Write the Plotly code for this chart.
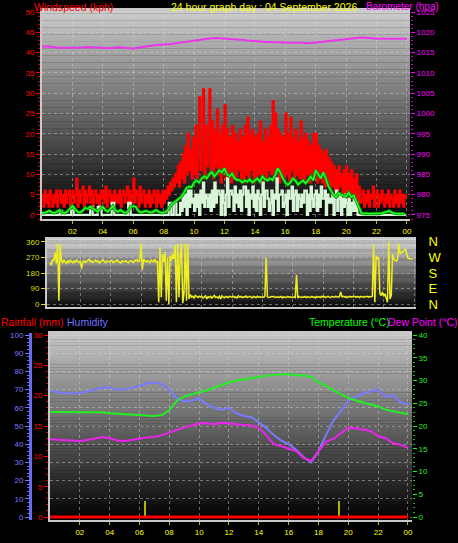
import plotly.graph_objects as go

W, H = 458, 543

# ------------------------------------------------------------------ data
hour_ticks = [2, 4, 6, 8, 10, 12, 14, 16, 18, 20, 22, 24]
hour_labels = ["02", "04", "06", "08", "10", "12", "14", "16", "18", "20", "22", "00"]

wind_ticks = [0, 5, 10, 15, 20, 25, 30, 35, 40, 45, 50]
baro_ticks = [975, 980, 985, 990, 995, 1000, 1005, 1010, 1015, 1020, 1025]
dir_ticks = [0, 90, 180, 270, 360]
compass_labels = ["N", "E", "S", "W", "N"]
hum_ticks = [0, 10, 20, 30, 40, 50, 60, 70, 80, 90, 100]
rain_ticks = [0, 5, 10, 15, 20, 25, 30]
temp_ticks = [0, 5, 10, 15, 20, 25, 30, 35, 40]

# wind gust, kph, 5-minute samples
gust_kph = [
    5, 2, 6, 3, 5, 2, 6, 4, 2, 5, 3, 6,
    2, 5, 6, 3, 5, 2, 6, 3, 5, 6, 2, 5,
    6, 3, 5, 9, 2, 6, 3, 5, 7, 2, 6, 3,
    5, 7, 3, 6, 2, 5, 6, 3, 5, 2, 6, 4,
    6, 3, 7, 2, 5, 6, 3, 5, 2, 6, 3, 5,
    3, 6, 2, 5, 6, 3, 5, 7, 2, 6, 3, 5,
    9, 3, 6, 5, 2, 7, 3, 5, 6, 2, 5, 3,
    6, 2, 5, 3, 6, 5, 2, 6, 3, 5, 2, 6,
    3, 6, 4, 7, 5, 8, 6, 9, 7, 10, 8, 12,
    7, 13, 9, 15, 8, 17, 10, 20, 11, 16, 9, 19,
    10, 22, 9, 18, 29, 11, 20, 31, 9, 22, 12, 19,
    31, 10, 23, 9, 21, 12, 26, 10, 20, 8, 22, 11,
    27, 9, 21, 10, 19, 8, 22, 10, 20, 9, 18, 11,
    21, 9, 19, 8, 22, 10, 24, 9, 20, 11, 21, 8,
    19, 9, 20, 10, 23, 8, 18, 10, 21, 9, 19, 11,
    22, 10, 28, 9, 25, 11, 21, 8, 20, 10, 19, 9,
    25, 10, 20, 8, 24, 11, 19, 9, 21, 10, 18, 9,
    23, 9, 19, 8, 20, 10, 18, 8, 17, 9, 20, 10,
    20, 8, 17, 9, 16, 8, 15, 7, 16, 8, 14, 7,
    13, 7, 12, 6, 11, 6, 12, 7, 10, 5, 11, 5,
    12, 5, 10, 4, 11, 5, 9, 4, 10, 3, 7, 3,
    4, 6, 2, 5, 3, 6, 2, 5, 4, 7, 2, 5,
    6, 2, 5, 3, 6, 4, 2, 5, 3, 6, 2, 5,
    4, 2, 6, 3, 5, 2, 6, 3, 5, 2, 5, 4,
]

# wind speed, kph, 5-minute samples
speed_kph = [
    0, 0, 0, 0, 0, 0, 0, 0, 0, 0, 0, 0,
    0, 0, 1, 1, 0, 0, 0, 0, 0, 0, 0, 2,
    2, 0, 0, 0, 0, 0, 0, 0, 0, 0, 0, 0,
    0, 0, 2, 2, 0, 0, 0, 0, 2, 2, 2, 0,
    0, 0, 0, 0, 0, 0, 0, 3, 3, 0, 0, 0,
    0, 0, 0, 0, 0, 0, 0, 0, 3, 3, 0, 0,
    0, 0, 0, 0, 0, 0, 0, 0, 0, 0, 0, 0,
    0, 0, 0, 0, 0, 0, 0, 0, 0, 0, 0, 0,
    0, 0, 0, 0, 3, 3, 0, 0, 3, 3, 0, 0,
    0, 3, 1, 5, 2, 5, 0, 6, 2, 6, 3, 4,
    1, 5, 2, 5, 0, 6, 3, 8, 2, 5, 4, 2,
    5, 1, 6, 2, 8, 3, 6, 6, 5, 0, 6, 3,
    0, 5, 9, 2, 6, 6, 5, 1, 7, 3, 5, 2,
    6, 1, 5, 7, 7, 2, 6, 0, 5, 4, 7, 2,
    5, 1, 6, 4, 0, 5, 8, 2, 6, 6, 4, 1,
    3, 6, 0, 5, 4, 9, 1, 5, 5, 6, 2, 3,
    5, 0, 6, 4, 4, 7, 1, 5, 6, 1, 5, 4,
    2, 5, 3, 6, 6, 0, 5, 1, 7, 4, 2, 5,
    6, 1, 5, 2, 7, 4, 4, 6, 0, 5, 3, 4,
    3, 5, 0, 4, 6, 1, 4, 5, 0, 4, 2, 5,
    3, 0, 4, 0, 3, 1, 4, 1, 3, 0, 0, 0,
    0, 0, 0, 0, 0, 0, 0, 0, 0, 0, 0, 0,
    0, 0, 0, 0, 0, 0, 0, 0, 0, 0, 0, 0,
    0, 0, 0, 0, 0, 0, 0, 0, 0, 0, 0, 0,
]

# average wind speed, kph, 10-minute samples
avg_kph = [
    0.5, 0.5, 0.8, 1.0, 0.6, 0.5,
    0.8, 1.2, 0.6, 0.5, 0.8, 1.5,
    2.2, 1.5, 0.8, 0.6, 1.0, 1.8,
    1.5, 2.0, 1.6, 1.0, 0.8, 1.5,
    2.0, 1.2, 0.8, 1.5, 2.2, 1.0,
    0.8, 1.2, 0.7, 0.5, 1.0, 2.0,
    2.2, 2.0, 1.0, 0.6, 0.8, 1.0,
    0.8, 0.6, 0.8, 1.2, 0.8, 0.5,
    0.6, 0.8, 1.5, 2.5, 3.0, 3.5,
    3.9, 4.5, 5.5, 6.6, 7.0, 6.8,
    8.0, 8.5, 8.0, 9.0, 9.5, 9.0,
    10.0, 10.6, 9.5, 10.2, 11.0, 10.5,
    11.5, 10.0, 9.5, 10.2, 9.0, 8.6,
    8.6, 8.0, 8.5, 8.2, 8.8, 8.0,
    8.5, 9.0, 8.2, 9.5, 8.8, 8.5,
    9.0, 8.6, 9.8, 11.5, 10.5, 9.0,
    8.0, 7.4, 8.0, 9.0, 8.5, 7.5,
    8.0, 8.5, 7.8, 8.5, 9.5, 8.5,
    11.0, 10.0, 9.0, 10.5, 9.0, 7.0,
    6.0, 5.0, 4.4, 5.4, 5.0, 4.8,
    4.5, 5.5, 4.4, 4.8, 3.5, 2.0,
    0.5, 0.3, 0.4, 0.3, 0.3, 0.4,
    0.3, 0.3, 0.4, 0.6, 0.8, 1.0,
    0.6, 0.4, 0.3, 0.3, 0.3, 0.3,
]

# barometer, hPa, 30-minute samples (00:00 .. 24:00)
baro_hpa = [
    1016.5, 1016.5, 1016.2, 1016.2, 1016.2, 1016.2, 1016.4, 1016.3,
    1016.1, 1016.1, 1016.3, 1016.2, 1016.0, 1016.3, 1016.6, 1016.9,
    1017.0, 1017.1, 1017.4, 1017.7, 1018.0, 1018.3, 1018.5, 1018.6,
    1018.5, 1018.4, 1018.2, 1018.0, 1017.8, 1017.7, 1017.6, 1017.5,
    1017.4, 1017.4, 1017.4, 1017.3, 1017.5, 1017.7, 1017.9, 1018.1,
    1018.3, 1018.5, 1018.7, 1018.6, 1018.4, 1018.4, 1018.4, 1018.4,
    1018.4,
]

# wind direction, degrees, 5-minute samples
wind_dir = [
    240, 225, 260, 250, 300, 235, 350, 20, 345, 250, 240, 255,
    245, 235, 250, 240, 255, 245, 238, 250, 242, 255, 248, 240,
    250, 205, 245, 252, 240, 248, 255, 260, 245, 250, 240, 248,
    255, 245, 250, 238, 245, 252, 258, 245, 240, 250, 246, 244,
    248, 252, 240, 245, 250, 255, 245, 240, 238, 250, 245, 248,
    250, 245, 240, 248, 252, 246, 240, 255, 250, 258, 245, 250,
    352, 200, 260, 250, 245, 252, 248, 240, 255, 250, 245, 260,
    240, 250, 10, 330, 40, 290, 245, 300, 20, 270, 0, 280,
    250, 290, 260, 340, 10, 350, 40, 280, 350, 5, 60, 350,
    20, 350, 30, 55, 40, 45, 35, 50, 42, 38, 45, 40,
    45, 35, 40, 48, 30, 42, 38, 45, 35, 40, 50, 38,
    42, 35, 45, 30, 48, 40, 36, 44, 40, 38, 45, 42,
    40, 45, 38, 42, 36, 48, 40, 44, 38, 42, 40, 46,
    38, 42, 45, 40, 36, 44, 42, 38, 45, 40, 42, 38,
    42, 40, 45, 270, 42, 38, 40, 44, 42, 45, 38, 40,
    42, 38, 40, 44, 36, 42, 40, 38, 44, 40, 42, 38,
    40, 42, 38, 170, 35, 44, 40, 38, 42, 40, 44, 38,
    42, 40, 38, 44, 40, 42, 36, 44, 40, 42, 38, 45,
    40, 44, 38, 42, 45, 40, 38, 44, 42, 40, 45, 42,
    40, 44, 70, 42, 45, 40, 44, 38, 42, 45, 40, 44,
    42, 45, 40, 44, 42, 38, 45, 42, 40, 44, 42, 45,
    40, 44, 42, 45, 345, 10, 280, 260, 270, 60, 50, 70,
    45, 60, 40, 10, 360, 30, 50, 290, 260, 255, 250, 260,
    350, 290, 295, 300, 310, 320, 300, 265, 262, 263, 262, 262,
]

# 30-minute samples (00:00 .. 24:00)
humidity_pct = [
    69.5, 68.5, 68, 68, 68, 69, 70, 71, 71, 70, 70, 71, 72, 73.5, 74, 73,
    70, 65, 63.5, 64, 65, 62, 60, 59, 60, 57, 55.5, 55, 52, 49, 45, 42,
    40, 37, 33, 30, 36, 45, 53, 58, 64, 66, 68, 69, 70, 66, 67, 63, 62,
]
temperature_c = [
    23.1, 23.1, 23.0, 23.0, 23.0, 23.0, 23.0, 23.0, 22.8, 22.7, 22.6, 22.5,
    22.4, 22.2, 22.2, 22.4, 23.5, 25.5, 26.5, 27.0, 27.4, 27.8, 28.4, 29.0,
    29.6, 30.0, 30.2, 30.5, 30.8, 31.0, 31.3, 31.4, 31.3, 31.2, 31.1, 30.8,
    29.6, 28.8, 27.8, 27.0, 26.2, 25.6, 25.2, 24.8, 24.3, 23.6, 23.2, 22.9,
    22.6,
]
dew_point_c = [
    17.1, 17.0, 16.8, 16.7, 16.7, 16.9, 17.2, 17.6, 17.3, 16.8, 16.7, 16.9,
    17.2, 17.5, 17.6, 18.0, 18.6, 19.2, 19.7, 20.1, 20.6, 20.6, 20.4, 20.7,
    20.6, 20.4, 20.2, 20.1, 19.6, 18.0, 16.0, 15.6, 15.0, 14.5, 13.0, 12.3,
    14.5, 16.5, 17.2, 18.5, 19.6, 19.5, 19.2, 18.9, 17.8, 17.3, 16.2, 15.9,
    15.2,
]
# hourly rainfall total, mm (00:00 .. 24:00)
rainfall_mm = [0, 0, 0, 0, 0, 0, 0, 0, 0, 0, 0, 0, 0, 0, 0, 0, 0, 0, 0, 0, 0, 0, 0, 0, 0]
rain_rate_hours = [6.4, 19.4]
rain_rate_mm = [2.6, 2.6]


def times(values, closed=False):
    n = len(values)
    step = 24 / (n - 1) if closed else 24 / n
    return [i * step for i in range(n)]


FONT = "Liberation Sans, Arial, sans-serif"
GRID = "rgba(215,215,215,0.45)"
FRAME = "#c8c8c8"
TICK = 8

fig = go.Figure()

# ---------------- top panel: wind + barometer
fig.add_trace(go.Scatter(x=times(gust_kph), y=gust_kph, mode="lines", line=dict(color="#ff0000", width=2, shape="hv"),
                         xaxis="x", yaxis="y", name="gust"))
fig.add_trace(go.Scatter(x=times(speed_kph), y=speed_kph, mode="lines", line=dict(color="#d8f5d8", width=2.2, shape="hv"),
                         xaxis="x", yaxis="y", name="speed"))
fig.add_trace(go.Scatter(x=times(avg_kph), y=avg_kph, mode="lines", line=dict(color="#008800", width=3.2),
                         xaxis="x", yaxis="y", name="avg_edge"))
fig.add_trace(go.Scatter(x=times(avg_kph), y=avg_kph, mode="lines", line=dict(color="#22ff22", width=1.6),
                         xaxis="x", yaxis="y", name="avg"))
fig.add_trace(go.Scatter(x=times(baro_hpa, True), y=baro_hpa, mode="lines", line=dict(color="#ee33ee", width=2),
                         xaxis="x", yaxis="y2", name="baro"))

# ---------------- direction panel
fig.add_trace(go.Scatter(x=times(wind_dir), y=wind_dir, mode="lines", line=dict(color="#eeee22", width=1.5),
                         xaxis="x2", yaxis="y3", name="dir"))
fig.add_trace(go.Scatter(x=[0, 24], y=[None, None], mode="lines", xaxis="x2", yaxis="y4", showlegend=False))

# ---------------- bottom panel
fig.add_trace(go.Bar(x=rain_rate_hours, y=rain_rate_mm, width=0.13, marker=dict(color="#b4b400", line=dict(width=0)),
                     xaxis="x3", yaxis="y5", name="rate"))
fig.add_trace(go.Scatter(x=times(humidity_pct, True), y=humidity_pct, mode="lines", line=dict(color="#7a7aff", width=2),
                         xaxis="x3", yaxis="y6", name="hum"))
fig.add_trace(go.Scatter(x=times(temperature_c, True), y=temperature_c, mode="lines", line=dict(color="#22ee22", width=2),
                         xaxis="x3", yaxis="y7", name="temp"))
fig.add_trace(go.Scatter(x=times(dew_point_c, True), y=dew_point_c, mode="lines", line=dict(color="#ee22ee", width=2),
                         xaxis="x3", yaxis="y7", name="dew"))
fig.add_trace(go.Scatter(x=times(rainfall_mm, True), y=rainfall_mm, mode="lines", line=dict(color="#ff0000", width=3),
                         xaxis="x3", yaxis="y5", name="rain"))


def px(p):
    return p / W


def py(p):
    return 1 - p / H


# gradient backgrounds
shapes = []
panels = [(42, 410, 10, 219, 205, 0), (47, 416, 239, 307, 215, 10), (50, 412, 333, 520, 200, 0)]
nb = 60
for (x0, x1, y0, y1, ctop, cbot) in panels:
    hgt = (y1 - y0) / nb
    for i in range(nb):
        f = (i + 0.5) / nb
        v = int(round(ctop + (cbot - ctop) * f))
        shapes.append(dict(type="rect", xref="paper", yref="paper", x0=px(x0), x1=px(x1),
                           y0=py(y0 + (i + 1) * hgt + 0.3), y1=py(y0 + i * hgt),
                           fillcolor=f"rgb({v},{v},{v})", line=dict(width=0), layer="below"))


def tfont(color, size=TICK):
    return dict(color=color, size=size, family=FONT)


common_x = dict(tickvals=hour_ticks, showgrid=True, gridcolor=GRID, griddash="dot", gridwidth=1,
                showline=True, linecolor=FRAME, linewidth=2, mirror=True, zeroline=False, fixedrange=True)

layout = dict(
    width=W, height=H, margin=dict(l=0, r=0, t=0, b=0, autoexpand=False),
    paper_bgcolor="#000000", plot_bgcolor="rgba(0,0,0,0)",
    showlegend=False, bargap=0, font=dict(family=FONT),
    shapes=shapes,
    xaxis=dict(domain=[px(42), px(410)], range=[0, 24.2], anchor="y", ticktext=hour_labels,
               tickfont=tfont("#ffff00"), ticks="outside", ticklen=3, tickcolor="#bbbb00", automargin=False,
               **common_x),
    yaxis=dict(domain=[py(219), py(10)], range=[-1.0, 50.5], anchor="x", tickvals=wind_ticks,
               tickfont=tfont("#ff0000"), ticks="outside", ticklen=4, tickcolor="#ff0000",
               minor=dict(tick0=0, dtick=1, ticks="outside", ticklen=2, tickcolor="#cc0000"),
               showgrid=True, gridcolor=GRID, griddash="dot", showline=True, linecolor=FRAME, linewidth=2,
               zeroline=False, automargin=False),
    yaxis2=dict(overlaying="y", side="right", anchor="x", range=[974.0, 1025.5], tickvals=baro_ticks,
                tickfont=tfont("#ff00ff"), ticks="outside", ticklen=4, tickcolor="#ff00ff",
                minor=dict(tick0=0, dtick=1, ticks="outside", ticklen=2, tickcolor="#cc00cc"),
                showgrid=False, zeroline=False, automargin=False),
    xaxis2=dict(domain=[px(47), px(416)], range=[-0.2, 24.13], anchor="y3", showticklabels=False, ticks="",
                automargin=False, **common_x),
    yaxis3=dict(domain=[py(307), py(239)], range=[-17, 377], anchor="x2", tickvals=dir_ticks,
                tickfont=tfont("#dddd00"), ticks="outside", ticklen=4, tickcolor="#dddd00",
                showgrid=True, gridcolor=GRID, griddash="dot", showline=True, linecolor=FRAME, linewidth=2,
                zeroline=False, automargin=False),
    yaxis4=dict(overlaying="y3", side="right", anchor="x2", range=[-17, 377], tickvals=dir_ticks,
                ticktext=compass_labels, tickfont=tfont("#ffff00", 13), ticks="outside", ticklen=9,
                tickcolor="rgba(0,0,0,0)", showgrid=False, zeroline=False, automargin=False),
    xaxis3=dict(domain=[px(50), px(412)], range=[0, 24.27], anchor="y5", ticktext=hour_labels,
                tickfont=tfont("#ffff00"), ticks="outside", ticklen=3, tickcolor="#bbbb00", automargin=False,
                **common_x),
    yaxis5=dict(domain=[py(520), py(333)], range=[-0.49, 30.33], anchor="x3", tickvals=rain_ticks,
                tickfont=tfont("#ff0000"), ticks="outside", ticklen=4, tickcolor="#ff0000",
                minor=dict(tick0=0, dtick=1, ticks="outside", ticklen=2, tickcolor="#cc0000"),
                showgrid=False, showline=True, linecolor=FRAME, linewidth=2, zeroline=False, automargin=False),
    yaxis6=dict(overlaying="y5", side="left", anchor="free", position=px(30), range=[-1.65, 101.1],
                tickvals=hum_ticks, tickfont=tfont("#7a7aff"), ticks="outside", ticklen=4,
                tickcolor="#7a7aff", minor=dict(tick0=0, dtick=2, ticks="outside", ticklen=2, tickcolor="#6a6aee"),
                showline=True, linecolor="#6a6aee", linewidth=3, showgrid=True, gridcolor=GRID,
                griddash="dot", zeroline=False, automargin=False),
    yaxis7=dict(overlaying="y5", side="right", anchor="x3", range=[-0.66, 40.44], tickvals=temp_ticks,
                tickfont=tfont("#22ee22"), ticks="outside", ticklen=4, tickcolor="#22ee22",
                minor=dict(tick0=0, dtick=1, ticks="outside", ticklen=2, tickcolor="#22bb22"),
                showgrid=False, zeroline=False, automargin=False),
)


def label(text, x, y, color, size=10.5, anchor="middle"):
    return dict(text=text, x=px(x), y=py(y), xref="paper", yref="paper", xanchor="left", yanchor=anchor,
                showarrow=False, font=dict(color=color, size=size, family=FONT), borderpad=0)


layout["annotations"] = [
    label("Windspeed (kph)", 33, 0, "#ff0000", anchor="top"),
    label("24 hour graph day : 04 September 2026", 170, 0, "#ffff00", anchor="top"),
    label("Barometer (hpa)", 365, 0, "#ff00ff", 10, anchor="top"),
    label("Rainfall (mm)", 0, 322, "#ff0000"),
    label("Humidity", 66, 322, "#7070ff"),
    label("Temperature (°C)", 308, 322, "#00ff00"),
    label("Dew Point (°C)", 387, 322, "#ff00ff"),
]

fig.update_layout(**layout)
fig.write_html(
    "out.html",
    config={"displayModeBar": False, "staticPlot": True},
    post_script="document.body.style.margin='0';document.body.style.background='#000';"
                "document.documentElement.style.overflow='hidden';",
)
